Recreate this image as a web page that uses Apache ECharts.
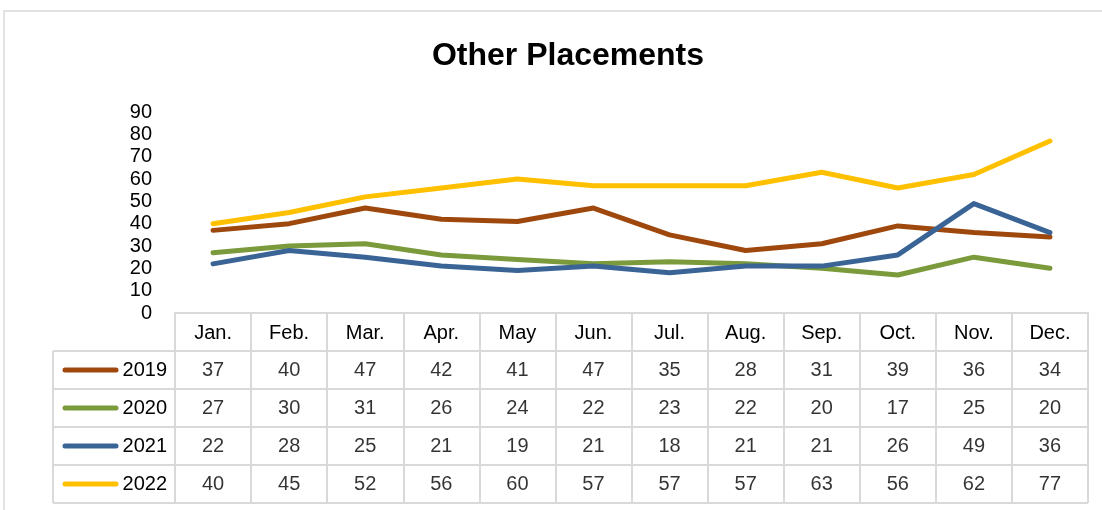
<!DOCTYPE html>
<html>
<head>
<meta charset="utf-8">
<script src="https://cdn.jsdelivr.net/npm/echarts@6/dist/echarts.min.js"></script>
<style>html,body{margin:0;padding:0;background:#fff}#c{width:1102px;height:510px}</style>
</head>
<body>
<div id="c"></div>
<script>
const title = 'Other Placements';
const months = ['Jan.','Feb.','Mar.','Apr.','May','Jun.','Jul.','Aug.','Sep.','Oct.','Nov.','Dec.'];
const years = ['2019','2020','2021','2022'];
const colors = ['#9E480E','#7A9A3C','#3A6496','#FFC000'];
const v2019 = [37,40,47,42,41,47,35,28,31,39,36,34];
const v2020 = [27,30,31,26,24,22,23,22,20,17,25,20];
const v2021 = [22,28,25,21,19,21,18,21,21,26,49,36];
const v2022 = [40,45,52,56,60,57,57,57,63,56,62,77];
const yTicks = {min:0, max:90, interval:10};

const seriesValues = [v2019, v2020, v2021, v2022];
const FONT = 'Liberation Sans';
const gridColor = '#D9D9D9';

const rich = { t: {fontFamily: FONT, fontSize: 20, color: '#000', padding:[0,0,0,4]} };
years.forEach((y,i)=>{ rich['k'+i] = {width:56, height:5, backgroundColor:colors[i], borderRadius:3}; });

const lineSeries = years.map((y,i)=>({
  name: y, type:'line', xAxisIndex:0, yAxisIndex:0,
  data: seriesValues[i], symbol:'none', smooth:false,
  lineStyle:{width:5, color:colors[i], cap:'round', join:'round'},
  itemStyle:{color:colors[i]}, silent:true, z:2+i
}));

const cellData = [];
seriesValues.forEach((arr,r)=>arr.forEach((v,c)=>cellData.push([c, r, v])));

const chart = echarts.init(document.getElementById('c'), null, {renderer:'canvas'});
chart.setOption({
  animation:false,
  backgroundColor:'#fff',
  title:{text:title, left:563, textAlign:'center', top:35,
    textStyle:{fontFamily:FONT, fontWeight:'bold', fontSize:32, color:'#000'}},
  graphic:[{type:'rect', shape:{x:4, y:11, width:1200, height:600}, style:{fill:'none', stroke:gridColor, lineWidth:1.5}, silent:true}],
  grid:[
    {left:175, right:14, top:112, height:201},
    {left:175, right:14, top:351, height:152},
    {left:53, width:122, top:351, height:152}
  ],
  xAxis:[
    {gridIndex:0, type:'category', data:months, boundaryGap:true,
      axisLine:{show:true, lineStyle:{color:gridColor, width:2}},
      axisTick:{show:true, interval:0, length:38, lineStyle:{color:gridColor, width:2}},
      axisLabel:{interval:0, margin:10, fontFamily:FONT, fontSize:20, color:'#000'},
      splitLine:{show:false}},
    {gridIndex:1, type:'category', data:months, boundaryGap:true, position:'top',
      axisLine:{show:false}, axisTick:{show:false}, axisLabel:{show:false},
      splitLine:{show:true, interval:0, lineStyle:{color:gridColor, width:2}}},
    {gridIndex:2, type:'category', data:[''], boundaryGap:true,
      axisLine:{show:false}, axisTick:{show:false}, axisLabel:{show:false},
      splitLine:{show:true, interval:0, lineStyle:{color:gridColor, width:2}}}
  ],
  yAxis:[
    {gridIndex:0, type:'value', min:yTicks.min, max:yTicks.max, interval:yTicks.interval,
      axisLine:{show:false}, axisTick:{show:false}, splitLine:{show:false},
      axisLabel:{margin:23, fontFamily:FONT, fontSize:20, color:'#000'}},
    {gridIndex:1, type:'category', data:years, inverse:true, boundaryGap:true,
      axisLine:{show:false}, axisTick:{show:false},
      axisLabel:{interval:0, margin:8, align:'right',
        formatter:(val, idx)=>'{k'+idx+'|}{t|'+val+'}', rich:rich},
      splitLine:{show:true, interval:0, lineStyle:{color:gridColor, width:2}}},
    {gridIndex:2, type:'category', data:years, inverse:true, boundaryGap:true,
      axisLine:{show:false}, axisTick:{show:false}, axisLabel:{show:false},
      splitLine:{show:true, interval:0, lineStyle:{color:gridColor, width:2}}}
  ],
  series:[
    ...lineSeries,
    {type:'scatter', xAxisIndex:1, yAxisIndex:1, data:cellData, symbolSize:1,
      itemStyle:{color:'rgba(0,0,0,0)'}, silent:true,
      label:{show:true, position:'inside', formatter:p=>String(p.data[2]),
        fontFamily:FONT, fontSize:20, color:'#000'}}
  ]
});
</script>
</body>
</html>
